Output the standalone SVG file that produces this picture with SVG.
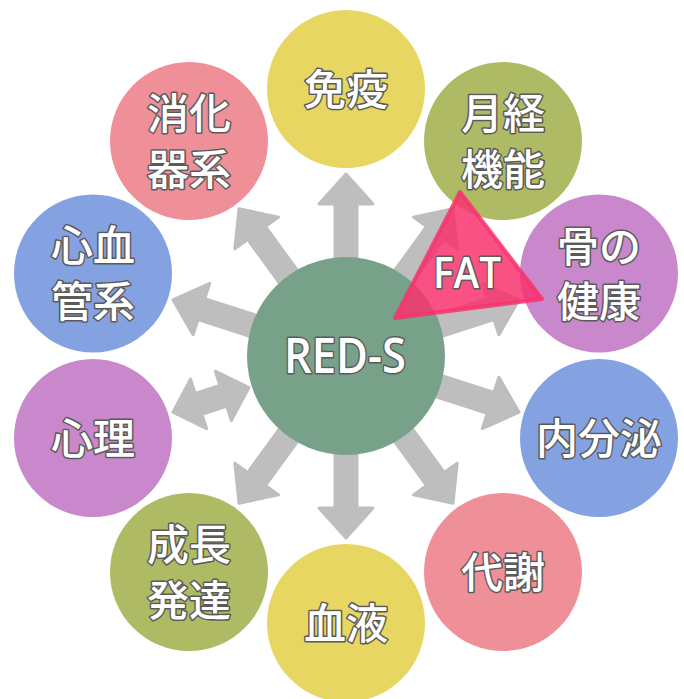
<svg xmlns="http://www.w3.org/2000/svg" xmlns:xlink="http://www.w3.org/1999/xlink" width="684" height="699" viewBox="0 0 684 699">
<style>
.arr{fill:#bebebe;stroke:#bebebe;stroke-width:3;stroke-linejoin:round}
.t{font-family:"Noto Sans CJK JP","Noto Sans CJK SC",sans-serif;font-size:42px;font-weight:500;fill:#fff;stroke:#5a5a5a;stroke-width:3;stroke-linejoin:round;paint-order:stroke;text-anchor:middle}
.e{font-family:"Open Sans","Noto Sans",sans-serif;font-weight:600;fill:#fff;stroke:#5a5a5a;stroke-width:3;stroke-linejoin:round;paint-order:stroke;text-anchor:middle}
.y{fill:#e8d662}.o{fill:#aebb64}.p{fill:#c987cc}.b{fill:#84a1e1}.k{fill:#ef9099}
</style>
<defs>
<path id="arr" d="M60,-11 L152,-11 L152,-27 L182,0 L152,27 L152,11 L60,11 Z"/>
<path id="darr" d="M102,0 L129,-26 L129,-11 L155,-11 L155,-26 L182,0 L155,26 L155,11 L129,11 L129,26 Z"/>
</defs>
<rect width="684" height="699" fill="#fff"/>
<g id="connectors" class="arr">
<use xlink:href="#arr" transform="translate(346 356) rotate(-90)"/>
<use xlink:href="#arr" transform="translate(346 356) rotate(-54)"/>
<use xlink:href="#arr" transform="translate(346 356) rotate(-18)"/>
<use xlink:href="#arr" transform="translate(346 356) rotate(18)"/>
<use xlink:href="#arr" transform="translate(346 356) rotate(54)"/>
<use xlink:href="#arr" transform="translate(346 356) rotate(90)"/>
<use xlink:href="#arr" transform="translate(346 356) rotate(126)"/>
<use xlink:href="#darr" transform="translate(346 356) rotate(162)"/>
<use xlink:href="#arr" transform="translate(346 356) rotate(-162)"/>
<use xlink:href="#arr" transform="translate(346 356) rotate(-126)"/>
</g>
<g id="n-meneki"><circle class="y" cx="346" cy="89" r="79"/><text class="t" x="346" y="105">免疫</text></g>
<g id="n-gekkei"><circle class="o" cx="503" cy="141" r="79"/><text class="t" x="503" y="129">月経</text><text class="t" x="503" y="185">機能</text></g>
<g id="n-hone"><circle class="p" cx="599" cy="273.5" r="79"/><text class="t" x="599" y="262">骨の</text><text class="t" x="599" y="317">健康</text></g>
<g id="n-naibunpi"><circle class="b" cx="599" cy="438" r="79"/><text class="t" x="599" y="454">内分泌</text></g>
<g id="n-taisha"><circle class="k" cx="503" cy="572" r="79"/><text class="t" x="503" y="588">代謝</text></g>
<g id="n-ketsueki"><circle class="y" cx="346" cy="623" r="79"/><text class="t" x="346" y="639">血液</text></g>
<g id="n-seicho"><circle class="o" cx="189" cy="572" r="79"/><text class="t" x="189" y="560">成長</text><text class="t" x="189" y="616">発達</text></g>
<g id="n-shinri"><circle class="p" cx="93" cy="438" r="79"/><text class="t" x="93" y="454">心理</text></g>
<g id="n-shinkekkan"><circle class="b" cx="93" cy="273.5" r="79"/><text class="t" x="93" y="261">心血</text><text class="t" x="93" y="317">管系</text></g>
<g id="n-shoka"><circle class="k" cx="189" cy="141" r="79"/><text class="t" x="189" y="129">消化</text><text class="t" x="189" y="185">器系</text></g>
<g id="n-reds"><circle cx="346" cy="356" r="99" fill="#78a18a"/><text class="e" x="345" y="373" font-size="48" textLength="122" lengthAdjust="spacingAndGlyphs">RED-S</text></g>
<g id="n-fat"><path d="M460,192 L542,299 L395,318 Z" fill="#f8336e" fill-opacity="0.85" stroke="#f8336e" stroke-opacity="0.85" stroke-width="4" stroke-linejoin="round"/><text class="e" x="467" y="288" font-size="44" textLength="68" lengthAdjust="spacingAndGlyphs">FAT</text></g>
</svg>
